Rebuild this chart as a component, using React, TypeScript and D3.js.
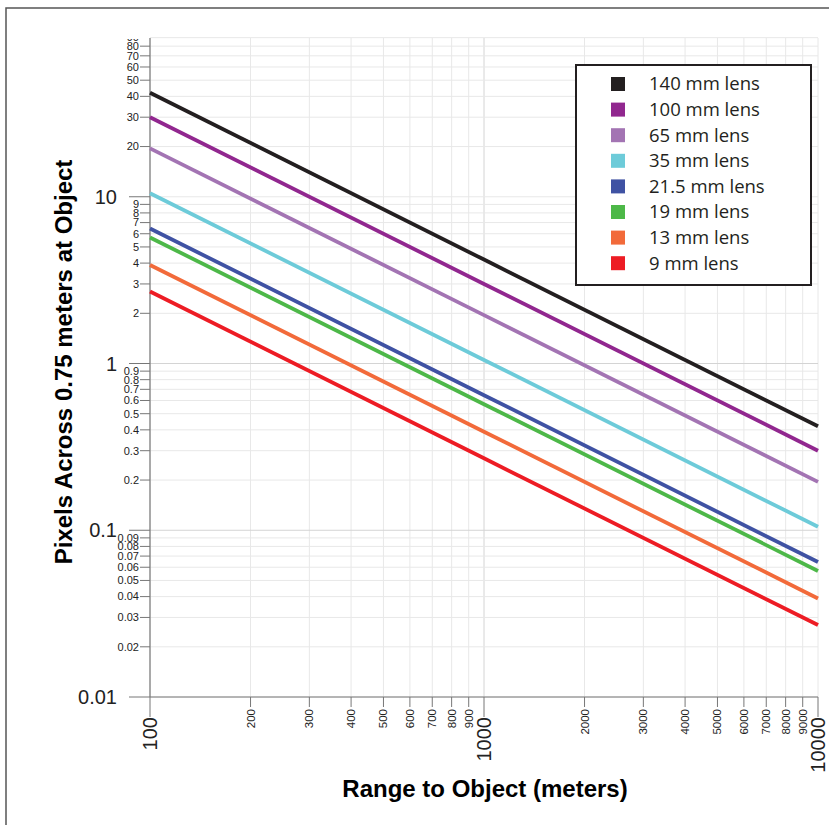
import React, { useEffect, useRef } from "react";
import * as d3 from "d3";

// lens focal lengths (legend order) and line colours
const lenses = ["140 mm lens", "100 mm lens", "65 mm lens", "35 mm lens", "21.5 mm lens", "19 mm lens", "13 mm lens", "9 mm lens"];
const colors = ["#231f20", "#91278f", "#a374b3", "#6dcbd9", "#3f52a3", "#4db848", "#f26a3a", "#ed1c24"];

// range to object (m) where values were read
const ranges = [100, 1000, 10000];

// pixels across 0.75 m at object, per lens, at each range
const px140 = [42, 4.2, 0.42];
const px100 = [30, 3.0, 0.3];
const px65 = [19.5, 1.95, 0.195];
const px35 = [10.5, 1.05, 0.105];
const px215 = [6.45, 0.645, 0.0645];
const px19 = [5.7, 0.57, 0.057];
const px13 = [3.9, 0.39, 0.039];
const px9 = [2.7, 0.27, 0.027];
const series = [px140, px100, px65, px35, px215, px19, px13, px9];

const xMajor = [100, 1000, 10000];
const xMinor = [200, 300, 400, 500, 600, 700, 800, 900, 2000, 3000, 4000, 5000, 6000, 7000, 8000, 9000];
const yMajor = [0.01, 0.1, 1, 10];
const yMinor = [0.02, 0.03, 0.04, 0.05, 0.06, 0.07, 0.08, 0.09, 0.2, 0.3, 0.4, 0.5, 0.6, 0.7, 0.8, 0.9,
    2, 3, 4, 5, 6, 7, 8, 9, 20, 30, 40, 50, 60, 70, 80, 90];

const App = () => {
    const ref = useRef<SVGSVGElement>(null);

    useEffect(() => {
        const svg = d3.select(ref.current);
        svg.selectAll("*").remove();

        const left = 150, right = 818, bottom = 697, top = 38;
        const font = "'Liberation Sans', Arial, sans-serif";

        const x = d3.scaleLog().domain([100, 10000]).range([left, right]);
        const y = d3.scaleLog().domain([0.01, 100]).range([bottom, 30]);

        // outer frame
        svg.append("rect")
            .attr("x", 6).attr("y", 8)
            .attr("width", 900).attr("height", 900)
            .attr("fill", "none").attr("stroke", "#555").attr("stroke-width", 1.5);

        // grid
        const grid = svg.append("g");
        grid.selectAll(".vx").data([...xMinor, ...xMajor]).enter().append("line")
            .attr("x1", d => x(d)).attr("x2", d => x(d))
            .attr("y1", top).attr("y2", bottom)
            .attr("stroke", d => d === 1000 ? "#d4d4d4" : "#e8e8e8").attr("stroke-width", 1);
        grid.selectAll(".hy").data([...yMinor, ...yMajor]).enter().append("line")
            .attr("x1", left).attr("x2", right)
            .attr("y1", d => y(d)).attr("y2", d => y(d))
            .attr("stroke", d => (d === 1 || d === 0.1) ? "#d4d4d4" : "#e8e8e8").attr("stroke-width", 1);

        // axes lines
        svg.append("line").attr("x1", left).attr("x2", left).attr("y1", top).attr("y2", bottom)
            .attr("stroke", "#777").attr("stroke-width", 1.2);
        svg.append("line").attr("x1", left).attr("x2", right).attr("y1", bottom).attr("y2", bottom)
            .attr("stroke", "#777").attr("stroke-width", 1.2);

        // y ticks
        const clip = svg.append("clipPath").attr("id", "yclip");
        clip.append("rect").attr("x", 0).attr("y", top + 1).attr("width", left).attr("height", 800);
        const yAx = svg.append("g").attr("clip-path", "url(#yclip)");
        yAx.selectAll(".ym").data(yMinor).enter().append("line")
            .attr("x1", left - 10).attr("x2", left)
            .attr("y1", d => y(d)).attr("y2", d => y(d))
            .attr("stroke", "#777");
        yAx.selectAll(".yml").data(yMinor).enter().append("text")
            .attr("x", left - 11).attr("y", d => y(d))
            .attr("dy", "0.35em").attr("text-anchor", "end")
            .attr("font-family", font).attr("font-size", 11).attr("fill", "#222")
            .text(d => String(d));
        yAx.selectAll(".yM").data(yMajor).enter().append("line")
            .attr("x1", left - 21).attr("x2", left)
            .attr("y1", d => y(d)).attr("y2", d => y(d))
            .attr("stroke", "#777");
        yAx.selectAll(".yMl").data(yMajor).enter().append("text")
            .attr("x", left - 33).attr("y", d => y(d))
            .attr("dy", "0.35em").attr("text-anchor", "end")
            .attr("font-family", font).attr("font-size", 20).attr("fill", "#222")
            .text(d => String(d));

        // x ticks
        svg.selectAll(".xm").data(xMinor).enter().append("line")
            .attr("x1", d => x(d)).attr("x2", d => x(d))
            .attr("y1", bottom).attr("y2", bottom + 10)
            .attr("stroke", "#777");
        svg.selectAll(".xml").data(xMinor).enter().append("text")
            .attr("transform", d => `translate(${x(d)}, ${bottom + 12}) rotate(-90)`)
            .attr("dy", "0.35em").attr("text-anchor", "end")
            .attr("font-family", font).attr("font-size", 11.5).attr("fill", "#222")
            .text(d => String(d));
        svg.selectAll(".xM").data(xMajor).enter().append("line")
            .attr("x1", d => x(d)).attr("x2", d => x(d))
            .attr("y1", bottom).attr("y2", bottom + 20)
            .attr("stroke", "#777");
        svg.selectAll(".xMl").data(xMajor).enter().append("text")
            .attr("transform", d => `translate(${x(d)}, ${bottom + 20}) rotate(-90)`)
            .attr("dy", "0.35em").attr("text-anchor", "end")
            .attr("font-family", font).attr("font-size", 20).attr("fill", "#222")
            .text(d => String(d));

        // lens lines
        const line = d3.line<number>()
            .x((d, i) => x(ranges[i]))
            .y(d => y(d));
        svg.selectAll(".lens").data(series).enter().append("path")
            .attr("d", d => line(d))
            .attr("fill", "none")
            .attr("stroke", (d, i) => colors[i])
            .attr("stroke-width", 3.8);

        // axis titles
        svg.append("text")
            .attr("x", 485).attr("y", 797)
            .attr("text-anchor", "middle")
            .attr("font-family", font).attr("font-size", 24).attr("font-weight", "bold")
            .text("Range to Object (meters)");
        svg.append("text")
            .attr("transform", "translate(72, 362) rotate(-90)")
            .attr("text-anchor", "middle")
            .attr("font-family", font).attr("font-size", 24).attr("font-weight", "bold")
            .text("Pixels Across 0.75 meters at Object");

        // legend
        const lg = svg.append("g").attr("transform", "translate(576, 65)");
        lg.append("rect").attr("width", 235).attr("height", 220)
            .attr("fill", "white").attr("stroke", "#231f20").attr("stroke-width", 2);
        const items = lg.selectAll(".item").data(lenses).enter().append("g")
            .attr("transform", (d, i) => `translate(0, ${19 + i * 25.6})`);
        items.append("rect").attr("x", 35).attr("y", -7).attr("width", 14).attr("height", 14)
            .attr("fill", (d, i) => colors[i]);
        items.append("text").attr("x", 73).attr("dy", "0.35em")
            .attr("font-family", "'Open Sans', 'Noto Sans', sans-serif").attr("font-size", 18.5)
            .attr("fill", "#231f20")
            .text(d => d);
    }, []);

    return (
        <svg ref={ref} width={829} height={825}
            style={{ position: "absolute", left: 0, top: 0, background: "white" }} />
    );
};

export default App;
